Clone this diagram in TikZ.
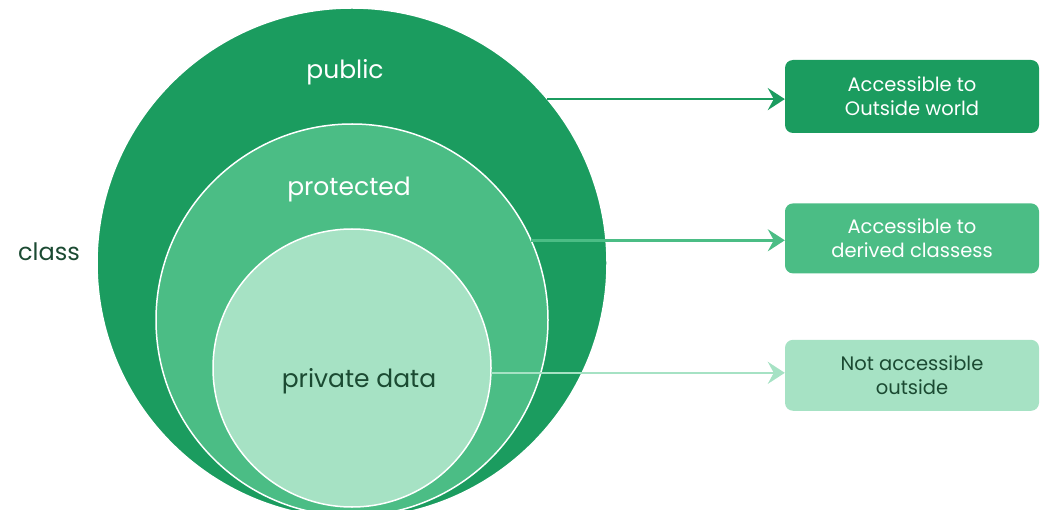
\documentclass[tikz,border=0pt]{standalone}
\usepackage{fontspec}
\setmainfont{Poppins}
\usetikzlibrary{arrows.meta,positioning}
\definecolor{accDark}{HTML}{1B9C5F}
\definecolor{accMid}{HTML}{4BBD85}
\definecolor{accLight}{HTML}{A6E2C4}
\definecolor{accInk}{HTML}{1B4A32}

\begin{document}
\begin{tikzpicture}[x=1pt, y=-1pt,
  ring/.style={circle, draw=white, line width=1.5pt, inner sep=0pt, outer sep=0pt},
  lbl/.style={font=\fontsize{25}{29}\selectfont, inner sep=0pt},
  infobox/.style={rounded corners=8pt, minimum width=254pt, minimum height=71pt, align=center,
    inner sep=0pt, font=\fontsize{19.5}{24}\selectfont},
  link/.style={-{Stealth[length=17pt,width=22pt,inset=6pt]}, line width=2.5pt}]
  \useasboundingbox (0,0) rectangle (1043,510);

  % nested access levels
  \node[ring, fill=accDark, minimum size=510pt] (pub) at (352,263) {};
  \node[ring, fill=accMid, minimum size=392pt] (prot) at (352,320) {};
  \node[ring, fill=accLight, minimum size=278pt] (priv) at (352,368) {};

  \node[lbl, text=white] (publbl) at (345,72) {public};
  \node[lbl, text=white] (protlbl) at (349,190) {protected};
  \node[lbl, text=accInk] (privlbl) at (359,381) {private data};
  \node[lbl, text=accInk, font=\fontsize{24}{28}\selectfont] (cls) at (49,252) {class};

  % what each level can reach
  \node[infobox, fill=accDark, text=white, minimum height=73pt] (outside) at (912,96.5) {Accessible to\\Outside world};
  \node[infobox, fill=accMid, text=white, minimum height=70pt, below=70pt of outside] (derived) {Accessible to\\derived classess};
  \node[infobox, fill=accLight, text=accInk, below=66pt of derived] (none) {Not accessible\\outside};

  \draw[link, accDark] (pub.40.6) -- (pub.40.6 -| outside.west);
  \draw[link, accMid] (prot.24.7) -- (prot.24.7 -| derived.west);
  \draw[link, accLight] (priv.-2.9) -- (priv.-2.9 -| none.west);
\end{tikzpicture}
\end{document}
